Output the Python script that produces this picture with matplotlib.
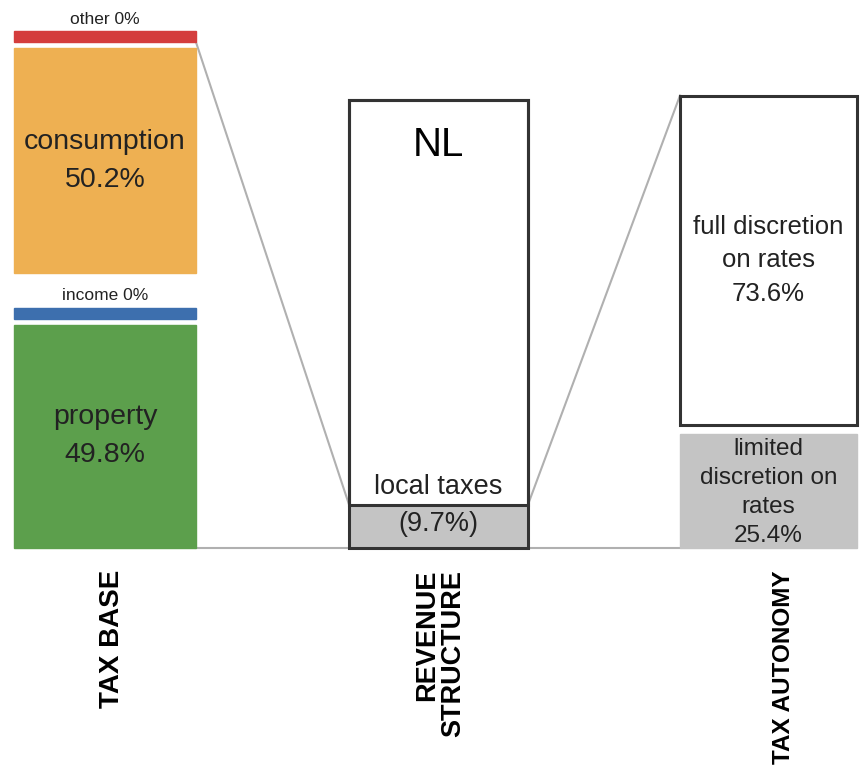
import matplotlib.pyplot as plt
from matplotlib.patches import Rectangle

plt.rcParams['font.family'] = ['Liberation Sans', 'DejaVu Sans']

# Tax base shares (%)
base_labels = ["property", "income", "consumption", "other"]
base_values = [49.8, 0.0, 50.2, 0.0]
base_colors = ["#5c9f4c", "#3d6fae", "#eeb052", "#d43d3d"]

# Revenue structure (%)
local_taxes = 9.7

# Tax autonomy (%)
autonomy_labels = ["limited\ndiscretion on\nrates", "full discretion\non rates"]
autonomy_values = [25.4, 73.6]

column_titles = ["TAX BASE", "REVENUE\nSTRUCTURE", "TAX AUTONOMY"]
title_sizes = [20, 19.5, 17.5]
country = "NL"

grey = "#c4c4c4"
edge = "#333333"
link = "#b0b0b0"
txt = "#222222"

fig = plt.figure(figsize=(8.65, 7.75), dpi=100)
ax = fig.add_axes([0, 0, 1, 1])
px = 4.48  # pixels per percent
ax.set_xlim(0, 865)
ax.set_ylim(-(775 - 548) / px, 548 / px)
ax.axis('off')

# column x ranges
lx0, lx1 = 14, 196
mx0, mx1 = 349, 528
rx0, rx1 = 680, 857

# ---- left column: tax base ----
zero_h = 2.5
gaps = [1.3, 7.7, 1.4]
y = 0
tops = []
for i, (lab, v, c) in enumerate(zip(base_labels, base_values, base_colors)):
    h = v if v > 0 else zero_h
    ax.add_patch(Rectangle((lx0, y), lx1 - lx0, h, color=c, zorder=2))
    cx = (lx0 + lx1) / 2
    if v > 0:
        ax.text(cx, y + h / 2, f"{lab}\n{v}%", ha='center', va='center',
                fontsize=20.5, color=txt, linespacing=1.6, zorder=3)
    else:
        ax.text(cx, y + h + 1.0, f"{lab} {v:g}%", ha='center', va='bottom',
                fontsize=12.5, color=txt, zorder=3)
    tops.append((y, y + h))
    y += h
    if i < len(gaps):
        y += gaps[i]

# ---- middle column: revenue structure ----
ax.add_patch(Rectangle((mx0, 0), mx1 - mx0, local_taxes, color=grey, zorder=2))
ax.add_patch(Rectangle((mx0, local_taxes), mx1 - mx0, 100 - local_taxes,
                       facecolor='white', edgecolor=edge, lw=2.2, zorder=2))
ax.add_patch(Rectangle((mx0, 0), mx1 - mx0, 100, fill=False,
                       edgecolor=edge, lw=2.2, zorder=4))
mcx = (mx0 + mx1) / 2
ax.text(mcx, local_taxes + 1.0, "local taxes", ha='center', va='bottom',
        fontsize=19.5, color=txt, zorder=3)
ax.text(mcx, local_taxes / 2 + 0.6, f"({local_taxes}%)", ha='center', va='center',
        fontsize=19.5, color=txt, zorder=3)
ax.text(mcx, 90, country, ha='center', va='center', fontsize=29, color='black', zorder=3)

# ---- right column: tax autonomy ----
r_gap = 2.0
lim, full = autonomy_values
ax.add_patch(Rectangle((rx0, 0), rx1 - rx0, lim, color=grey, zorder=2))
full_y0 = lim + r_gap
ax.add_patch(Rectangle((rx0, full_y0), rx1 - rx0, full, facecolor='white',
                       edgecolor=edge, lw=2.2, zorder=2))
rcx = (rx0 + rx1) / 2
ax.text(rcx, full_y0 + full * 0.5, f"{autonomy_labels[1]}\n{full}%", ha='center',
        va='center', fontsize=18.5, color=txt, linespacing=1.5, zorder=3)
ax.text(rcx, lim / 2 - 0.3, f"{autonomy_labels[0]}\n{lim}%", ha='center',
        va='center', fontsize=17.5, color=txt, linespacing=1.42, zorder=3)

# ---- connecting lines ----
ax.plot([lx1, mx0], [tops[3][0], local_taxes], color=link, lw=1.5, zorder=1)
ax.plot([lx1, mx0], [0, 0], color=link, lw=1.5, zorder=1)
ax.plot([mx1, rx0], [local_taxes, full_y0 + full], color=link, lw=1.5, zorder=1)
ax.plot([mx1, rx0], [0, 0], color=link, lw=1.5, zorder=1)

# ---- column titles (rotated) ----
title_x = [112, 440, 783]
title_top = (548 - 570) / px
for tx, t, fs in zip(title_x, column_titles, title_sizes):
    ax.text(tx, title_top, t, rotation=90, ha='center', va='top',
            fontsize=fs, fontweight='bold', color='black',
            linespacing=1.0, multialignment='right')

fig.savefig("out.png", dpi=100)
